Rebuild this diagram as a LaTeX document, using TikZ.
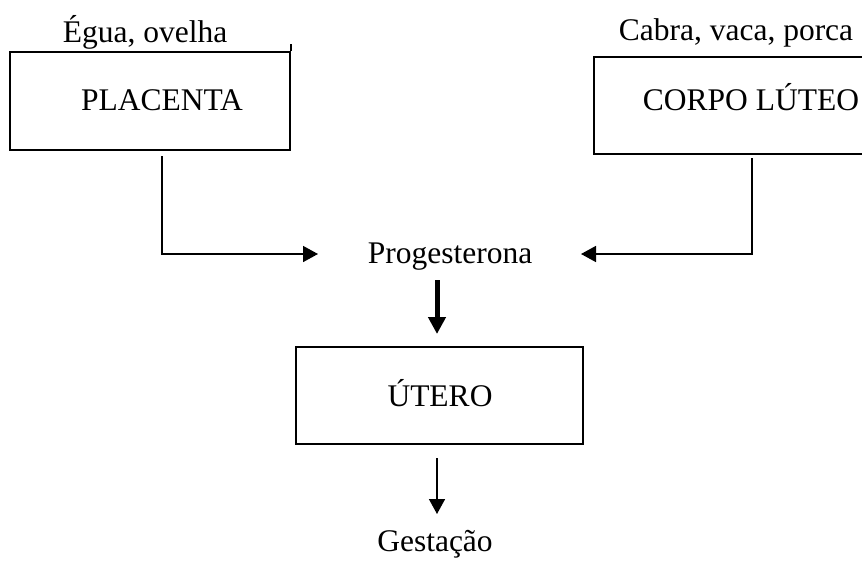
\documentclass[tikz,border=0pt]{standalone}
\usepackage{fontspec}
\setmainfont{Liberation Serif}
\usetikzlibrary{arrows.meta}
\begin{document}
\begin{tikzpicture}[x=1pt,y=1pt,
  boxnode/.style={draw, line width=1.6pt, inner sep=0pt},
  txt/.style={inner sep=0pt, anchor=base, font=\fontsize{31.5}{36}\selectfont},
  conn/.style={line width=1.6pt, -{Triangle[width=16pt,length=15pt]}},
  thick conn/.style={line width=5pt, -{Triangle[width=17pt,length=17pt]}}]
\useasboundingbox (0,0) rectangle (862,-560);
\clip (0,0) rectangle (862,-560);
\fill[white] (0,0) rectangle (862,-560);
% boxes
\node[boxnode, minimum width=280pt, minimum height=98pt] (plac) at (150,-101) {};
\node[boxnode, minimum width=280pt, minimum height=97pt] (corpo) at (734,-105.5) {};
\node[boxnode, minimum width=287pt, minimum height=97pt] (utero) at (439.5,-395.5) {};
\draw[line width=1.6pt] (plac.north east) -- ++(0,7);
% texts
\node[txt] (placT) at (162,-110) {PLACENTA};
\node[txt] (corpoT) at (751,-110) {CORPO LÚTEO};
\node[txt] (uteroT) at (440,-406) {ÚTERO};
\node[txt] (egua) at (145,-42) {Égua, ovelha};
\node[txt] (cabra) at (736,-40) {Cabra, vaca, porca};
\node[txt] (prog) at (450,-263) {Progesterona};
\node[txt] (gest) at (435,-551) {Gestação};
% connectors
\coordinate (pl1) at (162,-156);
\coordinate (co1) at (752,-158);
\coordinate (pltip) at (318,-254);
\coordinate (cotip) at (581,-254);
\draw[conn] (pl1) |- (pltip);
\draw[conn] (co1) |- (cotip);
\coordinate (thS) at (437,-280);
\coordinate (thE) at (437,-334);
\draw[thick conn] (thS) -- (thE);
\coordinate (tnS) at (437,-458);
\coordinate (tnE) at (437,-514);
\draw[conn] (tnS) -- (tnE);
\end{tikzpicture}
\end{document}
